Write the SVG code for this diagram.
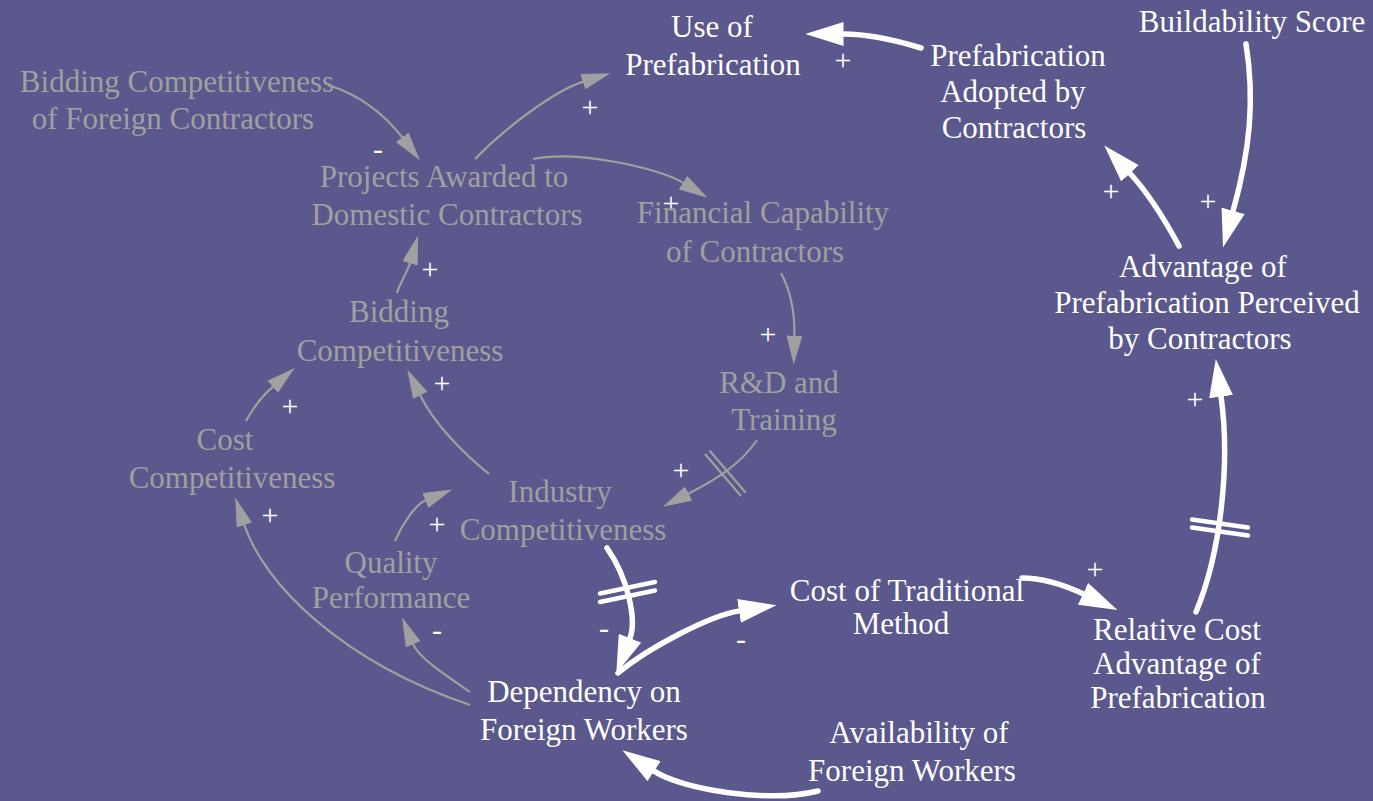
<svg xmlns="http://www.w3.org/2000/svg" width="1373" height="801" viewBox="0 0 1373 801" font-family="Liberation Serif, Times New Roman, serif">
<style>
text{font-size:31px;text-anchor:middle}
.w{fill:#ffffff}
.g{fill:#a0a0a0}
.s{fill:#ffffff;font-size:30px}
.cg{fill:none;stroke:#a0a0a0;stroke-width:2.2;marker-end:url(#ahg)}
.cw{fill:none;stroke:#ffffff;stroke-width:5.5;stroke-linecap:round;marker-end:url(#ahw)}
.hg{stroke:#a0a0a0;stroke-width:2.2}
.hw{stroke:#ffffff;stroke-width:4.5;stroke-linecap:round}
</style>
<defs>
<marker id="ahg" markerUnits="userSpaceOnUse" viewBox="0 0 29 16" markerWidth="29" markerHeight="16" refX="0.5" refY="8" orient="auto"><path d="M0,0 L29,8 L0,16 Z" fill="#a0a0a0"/></marker>
<marker id="ahw" markerUnits="userSpaceOnUse" viewBox="0 0 38 24" markerWidth="38" markerHeight="24" refX="0.5" refY="12" orient="auto"><path d="M0,0 L38,12 L0,24 Z" fill="#ffffff"/></marker>
</defs>
<rect width="1373" height="801" fill="#5a588c"/>
<g id="connectors">
<path class="cg" d="M328,85 C360,95 385,115 402.5,137.7"/>
<path class="cg" d="M475,159 C505,128 554.7,90.5 583.3,81.6"/>
<path class="cg" d="M533,159 C575,150 657.8,167.3 683.3,182.9"/>
<path class="cg" d="M781,273 C790,290 795,310 794.4,336.1"/>
<path class="cg" d="M757,440 C740,465 715,480 688.2,493.8"/>
<line class="hg" x1="705" y1="454" x2="741" y2="496"/>
<line class="hg" x1="709.5" y1="450.5" x2="745.5" y2="492.5"/>
<path class="cg" d="M489,474 C465,455 435,425 420,394.9"/>
<path class="cg" d="M397,293 C399,285 408,270.5 410.2,262.8"/>
<path class="cg" d="M246,421 C252,410 262,396 273,386.6"/>
<path class="cg" d="M470,705 C343,662 264.4,585.2 244.2,524.5"/>
<path class="cg" d="M470,692 C445,675 418.7,657.7 413,643.8"/>
<path class="cg" d="M395,541 C402,525 414.7,504.8 425.8,500.3"/>
<path class="cw" d="M921,48 C895,40 870,34 843,34"/>
<path class="cw" d="M1246,44 C1255,100 1250,150 1233,211.3"/>
<path class="cw" d="M1179,246 C1165,220 1150,195 1129.7,173"/>
<path class="cw" d="M1196,612 C1222,550 1230,460 1221,396.1"/>
<line class="hw" x1="1192" y1="519.5" x2="1248" y2="527.5"/>
<line class="hw" x1="1192" y1="527.5" x2="1248" y2="535.5"/>
<path class="cw" d="M1022,578 C1040,578 1060,583 1083.5,594"/>
<path class="cw" d="M607,548 C628,578 637,620 629.8,638.6"/>
<line class="hw" x1="600" y1="593.5" x2="655" y2="582"/>
<line class="hw" x1="600" y1="602" x2="655" y2="590.5"/>
<path class="cw" d="M618,673 C648,648 709.9,615.5 739.5,610.9"/>
<path class="cw" d="M818,791 C770,803 682.9,790.2 653.7,770.9"/>
</g>
<g id="labels">
<text class="s" x="378" y="159">-</text>
<text class="s" x="590" y="117">+</text>
<text class="s" x="843" y="70">+</text>
<text class="s" x="671" y="213">+</text>
<text class="s" x="768" y="344">+</text>
<text class="s" x="681" y="480">+</text>
<text class="s" x="442" y="393">+</text>
<text class="s" x="430" y="279">+</text>
<text class="s" x="290" y="416">+</text>
<text class="s" x="270" y="525">+</text>
<text class="s" x="437" y="534">+</text>
<text class="s" x="437" y="640">-</text>
<text class="s" x="604" y="638">-</text>
<text class="s" x="741" y="649">-</text>
<text class="s" x="1095" y="579">+</text>
<text class="s" x="1111" y="201">+</text>
<text class="s" x="1208" y="211">+</text>
<text class="s" x="1195" y="409">+</text>
</g>
<g id="use-of-prefabrication"><text class="w" x="712" y="37">Use of</text><text class="w" x="713" y="75">Prefabrication</text></g>
<g id="prefabrication-adopted"><text class="w" x="1018" y="66">Prefabrication</text><text class="w" x="1013" y="102">Adopted by</text><text class="w" x="1014" y="138">Contractors</text></g>
<g id="buildability-score"><text class="w" x="1252" y="32">Buildability Score</text></g>
<g id="advantage-perceived"><text class="w" x="1203" y="277">Advantage of</text><text class="w" x="1207" y="313">Prefabrication Perceived</text><text class="w" x="1200" y="349">by Contractors</text></g>
<g id="relative-cost-advantage"><text class="w" x="1177" y="640">Relative Cost</text><text class="w" x="1177" y="674">Advantage of</text><text class="w" x="1178" y="708">Prefabrication</text></g>
<g id="cost-of-traditional"><text class="w" x="907" y="601">Cost of Traditional</text><text class="w" x="901" y="634">Method</text></g>
<g id="availability-foreign-workers"><text class="w" x="919" y="743">Availability of</text><text class="w" x="912" y="781">Foreign Workers</text></g>
<g id="dependency-foreign-workers"><text class="w" x="584" y="702">Dependency on</text><text class="w" x="584" y="740">Foreign Workers</text></g>
<g id="bidding-foreign"><text class="g" x="177" y="92">Bidding Competitiveness</text><text class="g" x="173" y="129">of Foreign Contractors</text></g>
<g id="projects-awarded"><text class="g" x="444" y="187">Projects Awarded to</text><text class="g" x="447" y="225">Domestic Contractors</text></g>
<g id="financial-capability"><text class="g" x="763" y="223">Financial Capability</text><text class="g" x="755" y="262">of Contractors</text></g>
<g id="bidding-competitiveness"><text class="g" x="399" y="322">Bidding</text><text class="g" x="400" y="361">Competitiveness</text></g>
<g id="cost-competitiveness"><text class="g" x="225" y="450">Cost</text><text class="g" x="232" y="488">Competitiveness</text></g>
<g id="rd-training"><text class="g" x="779" y="393">R&amp;D and</text><text class="g" x="784" y="430">Training</text></g>
<g id="industry-competitiveness"><text class="g" x="560" y="502">Industry</text><text class="g" x="563" y="540">Competitiveness</text></g>
<g id="quality-performance"><text class="g" x="391" y="573">Quality</text><text class="g" x="391" y="608">Performance</text></g>
</svg>
